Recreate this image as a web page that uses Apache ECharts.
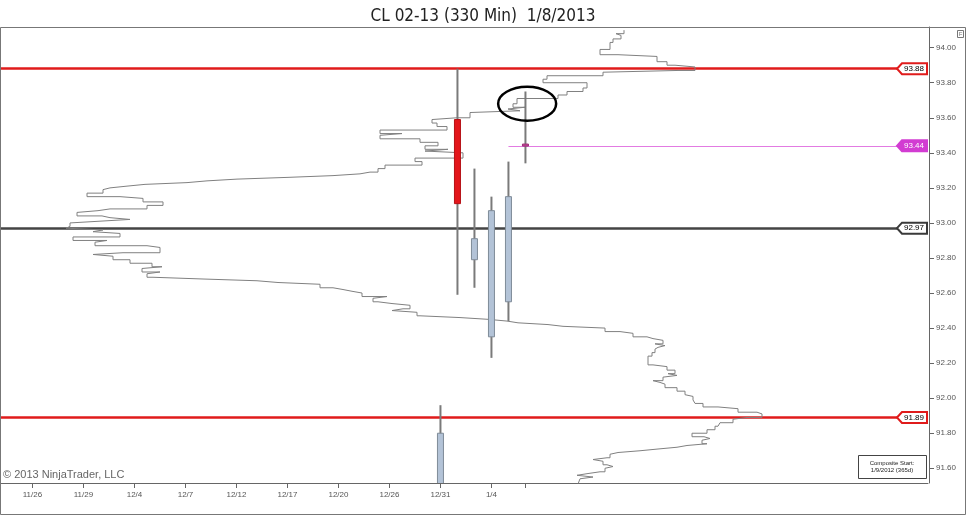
<!DOCTYPE html>
<html>
<head>
<meta charset="utf-8">
<title>CL 02-13 (330 Min) 1/8/2013</title>
<script src="https://cdn.jsdelivr.net/npm/echarts@6/dist/echarts.min.js"></script>
<style>
    html, body { margin: 0; padding: 0; background: #fff; }
    #chart { width: 966px; height: 516px; }
</style>
</head>
<body>
<div id="chart"></div>
<script>
// 330 min bars, counted from the 11/26 bar; a label every third bar
var tickIndex  = [0, 3, 6, 9, 12, 15, 18, 21, 24, 27];
var tickLabels = ['11/26', '11/29', '12/4', '12/7', '12/12', '12/17', '12/20', '12/26', '12/31', '1/4'];
var lastBarIndex = 29;

// bars that reach the visible price range: [index, open, close, low, high]
var bars = [
    [24, 91.33, 91.80, 91.21, 91.96],
    [25, 93.59, 93.11, 92.59, 93.88],
    [26, 92.79, 92.91, 92.63, 93.31],
    [27, 92.35, 93.07, 92.23, 93.15],
    [28, 92.55, 93.15, 92.44, 93.35],
    [29, 93.45, 93.44, 93.34, 93.75]
];

var priceTicks = [91.6, 91.8, 92.0, 92.2, 92.4, 92.6, 92.8, 93.0, 93.2, 93.4, 93.6, 93.8, 94.0];

// key levels of the composite profile
var highVolumeLevels = [93.88, 91.89];
var pocLevel  = 92.97;
var lastPrice = 93.44;
var circledBar = [29.1, 93.68];

// composite volume profile, top to bottom (volume measured from the right edge)
var profilePrice = [
    94.10, 94.08, 94.07, 94.05, 94.03, 93.99, 93.96, 93.95, 93.92, 93.90,
    93.89, 93.87, 93.86, 93.84, 93.82, 93.80, 93.77, 93.75, 93.73, 93.71,
    93.68, 93.66, 93.65, 93.64, 93.63, 93.60, 93.59, 93.57, 93.55, 93.53,
    93.51, 93.50, 93.48, 93.46, 93.44, 93.42, 93.41, 93.40, 93.37, 93.35,
    93.33, 93.31, 93.29, 93.28, 93.27, 93.26, 93.25, 93.24, 93.23, 93.22,
    93.21, 93.20, 93.19, 93.17, 93.15, 93.14, 93.12, 93.10, 93.08, 93.07,
    93.06, 93.04, 93.03, 93.02, 93.01, 93.00, 92.98, 92.97, 92.96, 92.95,
    92.94, 92.92, 92.90, 92.89, 92.87, 92.86, 92.83, 92.82, 92.81, 92.79,
    92.77, 92.75, 92.74, 92.72, 92.71, 92.69, 92.68, 92.67, 92.66, 92.65,
    92.63, 92.62, 92.61, 92.60, 92.58, 92.57, 92.55, 92.54, 92.53, 92.51,
    92.50, 92.49, 92.47, 92.46, 92.45, 92.44, 92.43, 92.42, 92.41, 92.40,
    92.38, 92.37, 92.35, 92.34, 92.33, 92.31, 92.30, 92.29, 92.28, 92.26,
    92.24, 92.19, 92.18, 92.16, 92.14, 92.13, 92.12, 92.10, 92.09, 92.08,
    92.06, 92.04, 92.02, 92.01, 91.99, 91.97, 91.95, 91.94, 91.92, 91.91,
    91.89, 91.88, 91.86, 91.85, 91.84, 91.82, 91.80, 91.78, 91.77, 91.76,
    91.74, 91.73, 91.72, 91.71, 91.70, 91.69, 91.68, 91.66, 91.65, 91.64,
    91.62, 91.61, 91.60, 91.58, 91.57, 91.56, 91.55, 91.54, 91.53
];
var profileVolume = [
    304, 312, 307, 315, 318, 328, 310, 271, 261, 253,
    233, 250, 325, 381, 385, 341, 345, 361, 370, 411,
    415, 403, 420, 408, 458, 471, 496, 491, 481, 548,
    526, 548, 508, 490, 503, 480, 503, 465, 513, 506,
    543, 550, 558, 568, 595, 640, 691, 721, 741, 783,
    801, 818, 825, 841, 808, 785, 765, 781, 818, 830,
    851, 826, 818, 798, 828, 858, 856, 862, 825, 835,
    808, 855, 821, 833, 781, 768, 805, 835, 815, 798,
    776, 766, 786, 768, 781, 775, 725, 671, 650, 608,
    595, 585, 576, 566, 541, 555, 550, 536, 518, 525,
    536, 511, 508, 468, 440, 421, 410, 380, 365, 323,
    308, 295, 281, 275, 265, 273, 263, 270, 273, 276,
    280, 275, 261, 253, 260, 251, 265, 275, 268, 263,
    251, 243, 241, 235, 233, 225, 210, 190, 171, 166,
    181, 195, 208, 210, 213, 221, 236, 224, 218, 226,
    221, 241, 251, 270, 288, 310, 318, 321, 335, 325,
    321, 315, 323, 328, 340, 351, 335, 348, 350
];

(function () {
    var FONT = '"Liberation Sans", Arial, sans-serif';

    // outline of the profile: each level runs down to the next one
    var profilePts = [];
    for (var i = 0; i < profilePrice.length; i++) {
        var next = i + 1 < profilePrice.length ? profilePrice[i + 1] : profilePrice[i] - 0.02;
        profilePts.push([profileVolume[i], profilePrice[i]]);
        profilePts.push([profileVolume[i], next]);
    }

    // 0 = high volume (red), 1 = point of control, 2 = last price
    var tagStyles = [
        { stroke: '#e01b1b', fill: '#ffffff', text: '#000000' },
        { stroke: '#3a3a3a', fill: '#ffffff', text: '#000000' },
        { stroke: '#d23cd2', fill: '#d23cd2', text: '#ffffff' }
    ];
    var tagData = highVolumeLevels.map(function (p) { return [p, 0]; });
    tagData.push([pocLevel, 1]);
    tagData.push([lastPrice, 2]);

    function renderCandle(params, api) {
        var x = api.value(0), o = api.value(1), c = api.value(2);
        var hi = api.coord([x, api.value(4)]);
        var lo = api.coord([x, api.value(3)]);
        var po = api.coord([x, o]);
        var pc = api.coord([x, c]);
        var fill = '#b3c3d7', edge = '#7f8b98';
        if (x === lastBarIndex) { fill = '#c8459a'; edge = '#9a2f74'; }
        else if (c < o) { fill = '#e3161b'; edge = '#b51014'; }
        var top = Math.min(po[1], pc[1]);
        var h = Math.max(Math.abs(po[1] - pc[1]), 2);
        return {
            type: 'group',
            children: [
                { type: 'line', shape: { x1: hi[0], y1: hi[1], x2: lo[0], y2: lo[1] },
                  style: { stroke: '#7a7a7a', lineWidth: 2 } },
                { type: 'rect', shape: { x: hi[0] - 3, y: top, width: 6, height: h },
                  style: { fill: fill, stroke: edge, lineWidth: 1 } }
            ]
        };
    }

    function renderTag(params, api) {
        var y = api.coord([0, api.value(0)])[1];
        var r = params.coordSys.x + params.coordSys.width - 1;
        var s = tagStyles[api.value(1)];
        return {
            type: 'group',
            children: [
                { type: 'polygon',
                  shape: { points: [[r - 30, y], [r - 25, y - 5.5], [r, y - 5.5], [r, y + 5.5], [r - 25, y + 5.5]] },
                  style: { fill: s.fill, stroke: s.stroke, lineWidth: 2 } },
                { type: 'text',
                  style: { x: r - 13, y: y, text: api.value(0).toFixed(2), fill: s.text,
                           font: '8px ' + FONT, align: 'center', verticalAlign: 'middle' } }
            ]
        };
    }

    function renderCircle(params, api) {
        var p = api.coord([api.value(0), api.value(1)]);
        return { type: 'ellipse', shape: { cx: p[0], cy: p[1], rx: 29, ry: 17 },
                 style: { fill: 'none', stroke: '#000', lineWidth: 2.5 } };
    }

    var chart = echarts.init(document.getElementById('chart'));
    chart.setOption({
        animation: false,
        backgroundColor: '#fff',
        title: {
            text: 'CL 02-13 (330 Min)  1/8/2013',
            left: 'center', top: 3,
            textStyle: { fontFamily: '"Liberation Sans Narrow", "DejaVu Sans Condensed", Arial, sans-serif',
                         fontSize: 17, fontWeight: 'normal', color: '#222' }
        },
        grid: { left: 0, right: 38, top: 27, bottom: 33 },
        xAxis: [{
            type: 'value', min: -1.91, max: 52.68,
            axisLine: { onZero: false, lineStyle: { color: '#666' } },
            axisTick: { customValues: tickIndex.concat([lastBarIndex]), length: 5, lineStyle: { color: '#666' } },
            axisLabel: {
                customValues: tickIndex,
                formatter: function (v) { return tickLabels[tickIndex.indexOf(v)]; },
                fontFamily: FONT, fontSize: 8, color: '#555', margin: 8
            },
            splitLine: { show: false }
        }, {
            type: 'value', min: 0, max: 928, inverse: true, show: false
        }],
        yAxis: {
            type: 'value', position: 'right', offset: 1,
            min: 91.516, max: 94.118,
            axisLine: { show: true, onZero: false, lineStyle: { color: '#666' } },
            axisTick: { show: true, customValues: priceTicks, length: 5, lineStyle: { color: '#666' } },
            axisLabel: {
                customValues: priceTicks,
                formatter: function (v) { return v.toFixed(2); },
                fontFamily: FONT, fontSize: 8, color: '#555', margin: 7
            },
            splitLine: { show: false }
        },
        series: [{
            name: 'Profile', type: 'line', xAxisIndex: 1, yAxisIndex: 0,
            data: profilePts, showSymbol: false, symbol: 'none', silent: true, z: 2,
            lineStyle: { color: '#808080', width: 1 }
        }, {
            name: 'CL 02-13', type: 'custom', xAxisIndex: 0, yAxisIndex: 0,
            renderItem: renderCandle, data: bars, clip: true, z: 3,
            encode: { x: 0, y: [1, 2, 3, 4] },
            markLine: {
                silent: true, symbol: 'none', z: 1, label: { show: false },
                data: highVolumeLevels.map(function (p) {
                    return { yAxis: p, lineStyle: { color: '#e01b1b', width: 2.5, type: 'solid' } };
                }).concat([
                    { yAxis: pocLevel, lineStyle: { color: '#444', width: 2.5, type: 'solid' } },
                    [{ coord: [lastBarIndex - 1, lastPrice], lineStyle: { color: '#e27be2', width: 1, type: 'solid' } },
                     { coord: [52.68, lastPrice] }]
                ])
            }
        }, {
            name: 'Note', type: 'custom', xAxisIndex: 0, yAxisIndex: 0,
            renderItem: renderCircle, data: [circledBar], silent: true, z: 5
        }, {
            name: 'Levels', type: 'custom', xAxisIndex: 0, yAxisIndex: 0,
            renderItem: renderTag, data: tagData, silent: true, clip: false, z: 10
        }],
        graphic: [
            { type: 'rect', shape: { x: 0.5, y: 27.5, width: 965, height: 487 },
              style: { fill: 'none', stroke: '#777', lineWidth: 1 }, z: 20, silent: true },
            { type: 'text', left: 3, top: 469,
              style: { text: '\u00a9 2013 NinjaTrader, LLC', font: '11px ' + FONT, fill: '#666' }, z: 20 },
            { type: 'rect', shape: { x: 858.5, y: 455.5, width: 68, height: 23 },
              style: { fill: '#fff', stroke: '#444', lineWidth: 1 }, z: 20 },
            { type: 'text', x: 892, y: 463,
              style: { text: 'Composite Start:', font: '6px ' + FONT, fill: '#222', align: 'center', verticalAlign: 'middle' }, z: 21 },
            { type: 'text', x: 892, y: 470,
              style: { text: '1/9/2012 (365d)', font: '6px ' + FONT, fill: '#222', align: 'center', verticalAlign: 'middle' }, z: 21 },
            { type: 'rect', shape: { x: 957.5, y: 30.5, width: 6, height: 7 },
              style: { fill: '#fff', stroke: '#777', lineWidth: 1 }, z: 20 },
            { type: 'text', x: 960.5, y: 34.5,
              style: { text: 'F', font: '6px ' + FONT, fill: '#777', align: 'center', verticalAlign: 'middle' }, z: 21 }
        ]
    });

    window.addEventListener('resize', function () { chart.resize(); });
})();
</script>
</body>
</html>
